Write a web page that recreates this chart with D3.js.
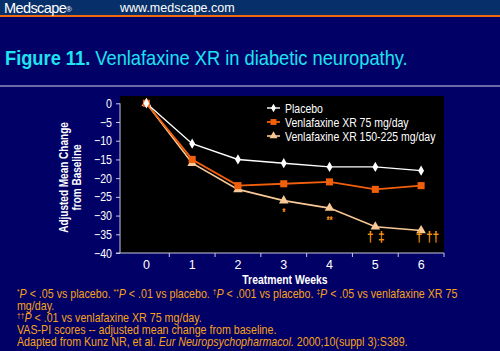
<!DOCTYPE html>
<html>
<head>
<meta charset="utf-8">
<script src="https://cdn.jsdelivr.net/npm/d3@7"></script>
<style>
  body { margin: 0; background: #000066; }
  svg { display: block; }
  text { font-family: "Liberation Sans", Arial, sans-serif; }
</style>
</head>
<body>
<svg id="chart" width="500" height="351"></svg>
<script>
// weeks on the x axis
const weeks = [0, 1, 2, 3, 4, 5, 6];
const yTicks = [0, -5, -10, -15, -20, -25, -30, -35, -40];

// adjusted mean change from baseline
const placebo = [0, -10.8, -15, -16, -17, -17, -18];
const venla75 = [0, -15, -22, -21.5, -21, -23, -22];
const venla150 = [0, -16, -23, -26, -28, -33, -34];

const seriesNames = ["Placebo", "Venlafaxine XR 75 mg/day", "Venlafaxine XR 150-225 mg/day"];

// significance marks under the high dose line
const marks = [
  { week: 3, text: "*", dx: 0, dy: 15.5 },
  { week: 4, text: "**", dx: 0, dy: 16 },
  { week: 5, text: "\u2020", dx: -5, dy: 15 },
  { week: 5, text: "\u2021", dx: 6, dy: 15 },
  { week: 6, text: "\u2020", dx: -2, dy: 11.5 },
  { week: 6, text: "\u2020\u2020", dx: 11.5, dy: 11.5 }
];

const footLines = [
  [["*", "sup"], ["P", "i"], [" < .05 vs placebo. ", ""], ["**", "sup"], ["P", "i"], [" < .01 vs placebo. ", ""],
   ["\u2020", "sup"], ["P", "i"], [" < .001 vs placebo. ", ""], ["\u2021", "sup"], ["P", "i"], [" < .05 vs venlafaxine XR 75", ""]],
  [["mg/day.", ""]],
  [["\u2020\u2020", "sup"], ["P", "i"], [" < .01 vs venlafaxine XR 75 mg/day.", ""]],
  [["VAS-PI scores -- adjusted mean change from baseline.", ""]],
  [["Adapted from Kunz NR, et al. ", ""], ["Eur Neuropsychopharmacol.", "i"], [" 2000;10(suppl 3):S389.", ""]]
];

const svg = d3.select("#chart");

// the slide text is narrow, squeeze it around its anchor x
function squeeze(sel, k) {
  sel.each(function () {
    const t = d3.select(this);
    const x0 = +t.attr("x") || 0;
    t.attr("transform", `translate(${x0 * (1 - k)},0) scale(${k},1)`);
  });
}

// header bar
svg.append("rect").attr("x", 0).attr("y", 0).attr("width", 500).attr("height", 15).attr("fill", "#07306a");
svg.append("rect").attr("x", 0).attr("y", 15).attr("width", 500).attr("height", 2).attr("fill", "#f26a10");
svg.append("text").attr("x", 4).attr("y", 12.5)
  .attr("font-family", "Liberation Serif, Times New Roman, serif").attr("font-size", 14.5)
  .attr("fill", "#fff").attr("letter-spacing", -0.6)
  .text("Medscape")
  .append("tspan").attr("font-size", 8).attr("dy", -1).text("\u00AE");
svg.append("text").attr("x", 120).attr("y", 12)
  .attr("font-size", 12.5).attr("fill", "#fff").text("www.medscape.com");

// title
const title = svg.append("text").attr("x", 5).attr("y", 65)
  .attr("font-size", 21).attr("fill", "#1ee3f0");
title.append("tspan").attr("font-weight", "bold").text("Figure 11.");
title.append("tspan").text(" Venlafaxine XR in diabetic neuropathy.");
squeeze(title, 0.87);

svg.append("rect").attr("x", 0).attr("y", 85).attr("width", 500).attr("height", 2).attr("fill", "#6a6aa8");

// plot area
const plot = { left: 120, right: 444, top: 96, bottom: 253 };
svg.append("rect").attr("x", plot.left).attr("y", plot.top)
  .attr("width", plot.right - plot.left).attr("height", plot.bottom - plot.top).attr("fill", "#000");

const x = d3.scaleLinear().domain([-0.5, 6.5]).range([123.5, 444]);
const y = d3.scaleLinear().domain([0, -40]).range([103.3, 253]);

const axisColor = "#c8c8e0";

// y axis
const yAxis = svg.append("g")
  .attr("transform", `translate(${plot.left},0)`)
  .call(d3.axisLeft(y).tickValues(yTicks).tickSize(4).tickPadding(4).tickFormat(d3.format("d")));
yAxis.select(".domain").attr("stroke", axisColor).attr("d", `M0,${y(0)}V${plot.bottom}`);
yAxis.selectAll(".tick line").attr("stroke", axisColor);
yAxis.selectAll(".tick text").attr("fill", "#fff").attr("font-size", 12.5).attr("font-family", null);
squeeze(yAxis.selectAll(".tick text").attr("x", -8), 0.85);

// x axis: ticks sit between weeks, labels under weeks
const xAxis = svg.append("g").attr("transform", `translate(0,${plot.bottom})`);
xAxis.append("path").attr("d", `M${plot.left - 4},0H${plot.right}`).attr("stroke", axisColor).attr("fill", "none");
xAxis.selectAll("line.tk").data(weeks).join("line").attr("class", "tk")
  .attr("x1", d => x(d + 0.5)).attr("x2", d => x(d + 0.5)).attr("y1", 0).attr("y2", 4)
  .attr("stroke", axisColor);
xAxis.selectAll("text.lb").data(weeks).join("text").attr("class", "lb")
  .attr("x", d => x(d)).attr("y", 15.5).attr("text-anchor", "middle")
  .attr("fill", "#fff").attr("font-size", 12.5).text(d => d);

const xl = svg.append("text").attr("x", 285).attr("y", 284.5)
  .attr("text-anchor", "middle").attr("fill", "#fff").attr("font-size", 13).attr("font-weight", "bold")
  .text("Treatment Weeks");
squeeze(xl, 0.8);

const yl = svg.append("g").attr("transform", "translate(70,177.5) rotate(-90) scale(0.77,1)");
const ylt = yl.append("text").attr("text-anchor", "middle").attr("fill", "#fff")
  .attr("font-size", 13).attr("font-weight", "bold");
ylt.append("tspan").attr("x", 0).attr("dy", -2).text("Adjusted Mean Change");
ylt.append("tspan").attr("x", 0).attr("dy", 12.5).text("from Baseline");

// series
const line = d3.line().x((d, i) => x(weeks[i])).y(d => y(d));
const series = [
  { name: seriesNames[0], values: placebo, color: "#ffffff", sym: d3.symbolDiamond, size: 30, width: 1.4 },
  { name: seriesNames[1], values: venla75, color: "#f25f0a", sym: d3.symbolSquare, size: 50, width: 1.8 },
  { name: seriesNames[2], values: venla150, color: "#f8c896", sym: d3.symbolTriangle, size: 40, width: 1.6 }
];

series.slice().reverse().forEach(s => {
  svg.append("path").datum(s.values).attr("d", line)
    .attr("fill", "none").attr("stroke", s.color).attr("stroke-width", s.width);
});
series.slice().reverse().forEach(s => {
  svg.append("g").selectAll("path").data(s.values).join("path")
    .attr("transform", (d, i) => `translate(${x(weeks[i])},${y(d)})`)
    .attr("d", d3.symbol(s.sym, s.size)).attr("fill", s.color);
});

// significance marks
const mk = svg.append("g").selectAll("text").data(marks).join("text")
  .attr("x", d => x(d.week) + d.dx)
  .attr("y", d => y(venla150[weeks.indexOf(d.week)]) + d.dy)
  .attr("text-anchor", "middle").attr("fill", "#ff9a12")
  .attr("font-size", d => d.text.includes("*") ? 10 : 15).attr("font-weight", "bold")
  .text(d => d.text);
squeeze(mk, 0.8);

// legend
const legend = svg.append("g").attr("transform", "translate(267,108)");
series.forEach((s, i) => {
  const g = legend.append("g").attr("transform", `translate(0,${i * 14})`);
  g.append("line").attr("x1", 0).attr("x2", 13).attr("stroke", s.color).attr("stroke-width", s.width);
  g.append("path").attr("transform", "translate(6.5,0)").attr("d", d3.symbol(s.sym, s.size * 0.7)).attr("fill", s.color);
  const t = g.append("text").attr("x", 18).attr("y", 4.5).attr("fill", "#fff").attr("font-size", 12.5).text(s.name);
  squeeze(t, 0.84);
});

// footnotes
const foot = svg.append("g");
footLines.forEach((parts, i) => {
  const t = foot.append("text").attr("x", 17).attr("y", 298.5 + i * 11.8)
    .attr("fill", "#f7a21b").attr("font-size", 12);
  parts.forEach(([txt, kind]) => {
    const sp = t.append("tspan").text(txt);
    if (kind === "i") sp.attr("font-style", "italic");
    if (kind === "sup") sp.attr("font-size", 7.5).attr("baseline-shift", "super");
  });
  squeeze(t, 0.89);
});
</script>
</body>
</html>
